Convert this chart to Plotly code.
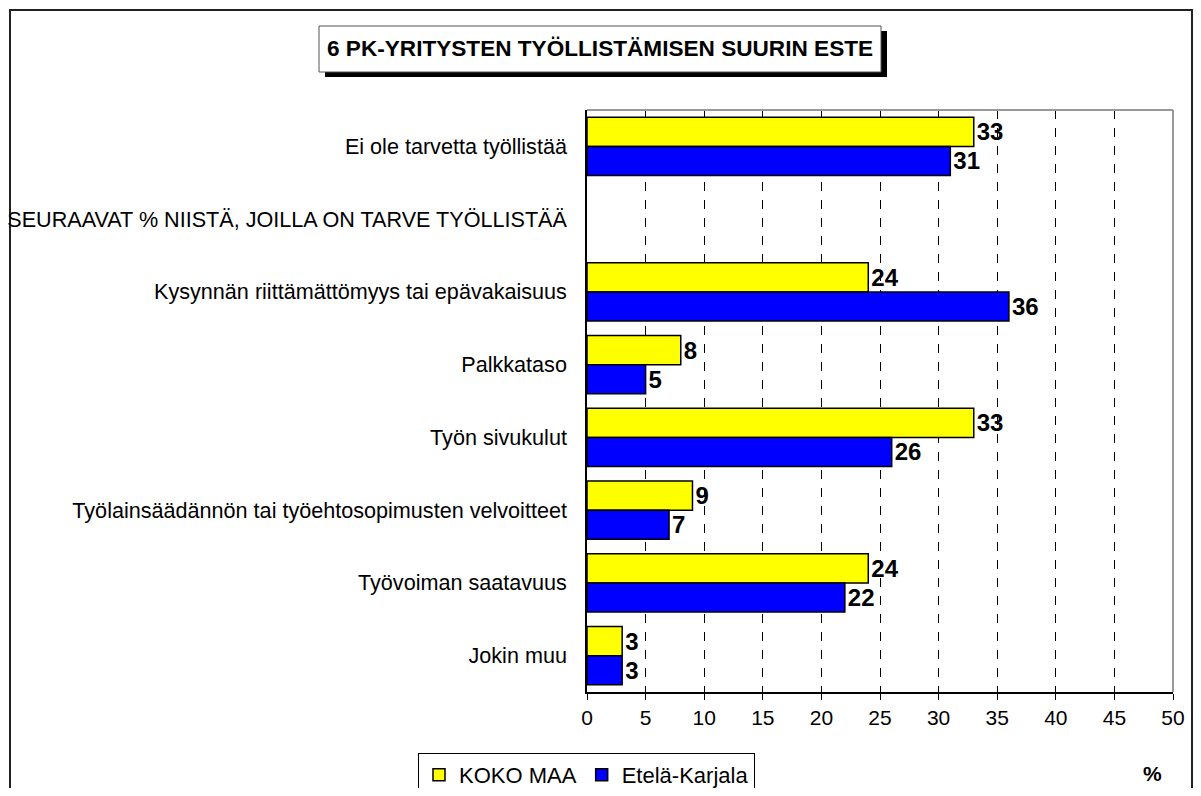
import plotly.graph_objects as go

categories = [
    "Ei ole tarvetta työllistää",
    "SEURAAVAT % NIISTÄ, JOILLA ON TARVE TYÖLLISTÄÄ",
    "Kysynnän riittämättömyys tai epävakaisuus",
    "Palkkataso",
    "Työn sivukulut",
    "Työlainsäädännön tai työehtosopimusten velvoitteet",
    "Työvoiman saatavuus",
    "Jokin muu",
]
koko_maa = [33, None, 24, 8, 33, 9, 24, 3]
etela_karjala = [31, None, 36, 5, 26, 7, 22, 3]
x_ticks = [0, 5, 10, 15, 20, 25, 30, 35, 40, 45, 50]

FONT = "Liberation Sans, Arial, sans-serif"
OFF = 8  # page body margin
W, H = 1185, 780
# plot area in reference (screen) pixels
L, R, T, B = 587, 1173, 110, 692


def px(x):
    return (x - L) / (R - L)


def py(y):
    return (B - y) / (B - T)


def lbl(vals):
    return ["" if v is None else str(v) for v in vals]


fig = go.Figure()
fig.add_trace(go.Bar(
    y=categories, x=koko_maa, name="KOKO MAA", orientation="h",
    marker=dict(color="#FFFF00", line=dict(color="black", width=1.5)),
    text=lbl(koko_maa), textposition="outside",
    textfont=dict(family=FONT, size=24, color="black", weight="bold"),
    cliponaxis=False,
))
fig.add_trace(go.Bar(
    y=categories, x=etela_karjala, name="Etelä-Karjala", orientation="h",
    marker=dict(color="#0000FF", line=dict(color="black", width=1.5)),
    text=lbl(etela_karjala), textposition="outside",
    textfont=dict(family=FONT, size=24, color="black", weight="bold"),
    cliponaxis=False,
))

shapes = [
    # outer frame
    dict(type="rect", xref="paper", yref="paper",
         x0=px(10), x1=px(1192), y0=py(820), y1=py(10),
         line=dict(color="#222222", width=2), layer="below"),
    # plot area top/right border
    dict(type="line", xref="paper", yref="paper", x0=0, x1=1, y0=1, y1=1,
         line=dict(color="#999999", width=2), layer="above"),
    dict(type="line", xref="paper", yref="paper", x0=1, x1=1, y0=0, y1=1,
         line=dict(color="#999999", width=2), layer="above"),
    # title shadow
    dict(type="rect", xref="paper", yref="paper",
         x0=px(325), x1=px(887), y0=py(77), y1=py(31),
         line=dict(width=0), fillcolor="black", layer="above"),
    # title box
    dict(type="rect", xref="paper", yref="paper",
         x0=px(319), x1=px(881), y0=py(72), y1=py(26),
         line=dict(color="#555555", width=1), fillcolor="white", layer="above"),
]

annotations = [
    dict(text="<b>6 PK-YRITYSTEN TYÖLLISTÄMISEN SUURIN ESTE</b>",
         xref="paper", yref="paper", x=px(600), y=py(49),
         xanchor="center", yanchor="middle", showarrow=False,
         font=dict(family=FONT, size=22.6, color="black")),
    dict(text="<b>%</b>", xref="paper", yref="paper", x=px(1152), y=py(773),
         xanchor="center", yanchor="middle", showarrow=False,
         font=dict(family=FONT, size=21, color="black")),
]

fig.update_layout(
    width=W, height=H,
    margin=dict(l=L - OFF, r=W - (R - OFF), t=T - OFF, b=H - (B - OFF), pad=0,
                autoexpand=False),
    paper_bgcolor="white", plot_bgcolor="white",
    barmode="group", bargap=0.2, bargroupgap=0,
    font=dict(family=FONT, size=21, color="black"),
    showlegend=True,
    legend=dict(orientation="h", x=px(418), y=py(753), xanchor="left", yanchor="top",
                bordercolor="black", borderwidth=1, bgcolor="white",
                font=dict(family=FONT, size=22, color="black"),
                itemwidth=30, tracegroupgap=0),
    shapes=shapes, annotations=annotations,
    xaxis=dict(range=[0, 50], tickvals=x_ticks, ticktext=[str(t) for t in x_ticks],
               showgrid=True, gridcolor="black", griddash="dash", gridwidth=1,
               showline=True, linecolor="black", linewidth=1.5,
               ticks="outside", ticklen=6, tickcolor="black",
               tickfont=dict(family=FONT, size=21, color="black"),
               zeroline=False, fixedrange=True, automargin=False),
    yaxis=dict(categoryorder="array", categoryarray=categories, autorange="reversed",
               showline=True, linecolor="black", linewidth=1.5,
               showgrid=False, ticks="", ticklabelstandoff=14,
               tickfont=dict(family=FONT, size=21.6, color="black"), fixedrange=True,
               automargin=False),
)

fig.write_html("out.html")
